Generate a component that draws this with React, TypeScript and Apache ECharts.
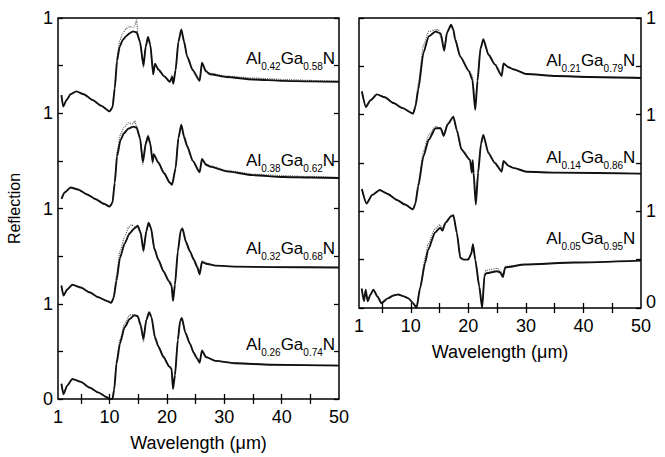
import { useEffect, useRef } from 'react';
import * as echarts from 'echarts';

type P = [number, number];

const FONT = '"Liberation Sans", Arial, Helvetica, sans-serif';

// axis ticks / labels
const xLabelValues = [1, 10, 20, 30, 40, 50];
const xTickValues = [5, 10, 15, 20, 25, 30, 35, 40, 45];

// compositions
const leftAl = ['0.42', '0.38', '0.32', '0.26'];
const leftGa = ['0.58', '0.62', '0.68', '0.74'];
const leftOffsets = [3, 2, 1, 0];
const leftLabelY = [3.57, 2.5, 1.58, 0.57];
const rightAl = ['0.21', '0.14', '0.05'];
const rightGa = ['0.79', '0.86', '0.95'];
const rightOffsets = [2, 1, 0];
const rightLabelY = [2.56, 1.56, 0.72];

// Al0.42Ga0.58N
const al42Fit: P[] = [[1.6,0.19],[1.9,0.07],[2.5,0.14],[3.2,0.20],[4.2,0.23],[5.5,0.20],[7,0.14],[8.5,0.08],[10,0.02],[10.5,0.06],[10.9,0.26],[11.3,0.55],[11.75,0.70],[12.3,0.77],[12.9,0.81],[13.5,0.84],[14.1,0.86],[14.7,0.85],[15.3,0.75],[15.9,0.50],[16.3,0.70],[16.7,0.80],[17.1,0.72],[17.6,0.41],[17.9,0.52],[18.5,0.46],[19.5,0.39],[20.5,0.33],[20.9,0.38],[21.1,0.31],[21.5,0.45],[22,0.75],[22.5,0.88],[23,0.75],[23.5,0.60],[24.5,0.45],[25.7,0.34],[26.1,0.53],[26.8,0.44],[27.5,0.41],[30.4,0.38],[35,0.355],[40.3,0.34],[45,0.335],[50,0.33]];
const al42Exp: P[] = [[1.6,0.19],[1.9,0.08],[2.5,0.14],[3.2,0.20],[4.2,0.23],[5.5,0.20],[7,0.14],[8.5,0.08],[10,0.02],[10.5,0.07],[10.9,0.30],[11.3,0.60],[11.75,0.76],[12.3,0.84],[12.9,0.89],[13.5,0.91],[14.1,0.90],[14.4,0.92],[14.7,0.98],[15.0,0.80],[15.4,0.70],[15.9,0.48],[16.3,0.71],[16.7,0.79],[17.1,0.70],[17.6,0.40],[17.9,0.50],[18.5,0.46],[19.5,0.39],[20.5,0.33],[20.9,0.40],[21.1,0.32],[21.5,0.46],[22,0.76],[22.5,0.87],[23,0.73],[23.5,0.60],[24.5,0.46],[25.7,0.35],[26.1,0.52],[26.8,0.45],[27.5,0.42],[30.4,0.39],[35,0.37],[40.3,0.355],[45,0.345],[50,0.335]];

// Al0.38Ga0.62N
const al38Fit: P[] = [[1.6,0.10],[2.2,0.17],[3.2,0.22],[4.5,0.20],[6,0.15],[7.5,0.10],[9,0.05],[10,0.02],[10.5,0.06],[10.9,0.27],[11.3,0.55],[11.9,0.72],[12.5,0.79],[13.3,0.84],[14.1,0.86],[14.7,0.85],[15.3,0.74],[15.8,0.49],[16.3,0.68],[16.7,0.76],[17.1,0.68],[17.5,0.49],[17.7,0.57],[18.5,0.48],[19.5,0.37],[20.5,0.27],[20.9,0.25],[21.5,0.42],[22,0.74],[22.5,0.88],[23,0.75],[23.5,0.66],[24.5,0.50],[25.7,0.38],[26.1,0.52],[26.8,0.46],[27.5,0.44],[30.4,0.39],[35,0.35],[40.3,0.33],[45,0.325],[50,0.32]];
const al38Exp: P[] = [[1.6,0.11],[2.2,0.17],[3.2,0.22],[4.5,0.20],[6,0.15],[7.5,0.10],[9,0.05],[10,0.02],[10.5,0.07],[10.9,0.30],[11.3,0.60],[11.9,0.78],[12.5,0.85],[13.3,0.90],[14.1,0.89],[14.4,0.92],[14.7,0.86],[15.3,0.72],[15.8,0.46],[16.3,0.69],[16.7,0.77],[17.1,0.67],[17.5,0.47],[17.7,0.56],[18.5,0.49],[19.5,0.38],[20.5,0.28],[20.9,0.26],[21.5,0.43],[22,0.75],[22.5,0.87],[23,0.73],[23.5,0.64],[24.5,0.50],[25.7,0.39],[26.1,0.51],[26.8,0.47],[27.5,0.45],[30.4,0.40],[35,0.36],[40.3,0.345],[45,0.335],[50,0.325]];

// Al0.32Ga0.68N
const al32Fit: P[] = [[1.6,0.19],[1.95,0.085],[2.6,0.15],[3.5,0.20],[5,0.17],[6.5,0.12],[8,0.07],[9.5,0.03],[10.3,0.01],[10.7,0.06],[11.2,0.24],[11.8,0.48],[12.6,0.63],[13.5,0.74],[14.3,0.79],[14.9,0.82],[15.4,0.75],[15.9,0.56],[16.4,0.76],[16.8,0.85],[17.2,0.80],[17.8,0.58],[18.5,0.46],[19.4,0.34],[20.3,0.24],[20.8,0.19],[21.05,0.03],[21.4,0.20],[21.9,0.55],[22.4,0.77],[22.7,0.79],[23.3,0.65],[24,0.55],[24.7,0.46],[25.3,0.38],[25.7,0.31],[26.1,0.44],[26.8,0.42],[28.5,0.40],[32,0.39],[38,0.385],[50,0.38]];
const al32Exp: P[] = [[1.6,0.19],[1.95,0.09],[2.6,0.15],[3.5,0.20],[5,0.17],[6.5,0.12],[8,0.07],[9.5,0.03],[10.3,0.01],[10.7,0.08],[11.2,0.30],[11.8,0.55],[12.6,0.70],[13.3,0.80],[13.8,0.83],[14.3,0.81],[14.9,0.80],[15.4,0.73],[15.9,0.54],[16.4,0.77],[16.8,0.84],[17.2,0.78],[17.8,0.57],[18.5,0.47],[19.4,0.35],[20.3,0.25],[20.8,0.21],[21.05,0.05],[21.4,0.22],[21.9,0.56],[22.4,0.76],[22.7,0.78],[23.3,0.66],[24,0.56],[24.7,0.47],[25.3,0.40],[25.7,0.33],[26.1,0.45],[26.8,0.43],[28.5,0.40],[32,0.39],[38,0.385],[50,0.38]];

// Al0.26Ga0.74N
const al26Fit: P[] = [[1.6,0.16],[1.95,0.05],[2.6,0.14],[3.5,0.21],[5,0.18],[6.5,0.12],[8,0.07],[9.5,0.02],[10,0.0],[10.5,0.0],[10.8,0.10],[11.2,0.37],[11.8,0.58],[12.6,0.75],[13.5,0.84],[14.3,0.88],[14.9,0.87],[15.4,0.78],[15.9,0.63],[16.4,0.83],[16.9,0.91],[17.3,0.86],[17.9,0.65],[18.5,0.55],[19.4,0.44],[20.4,0.34],[20.8,0.32],[21.05,0.105],[21.4,0.25],[21.9,0.62],[22.3,0.82],[22.6,0.85],[23.2,0.70],[24,0.58],[24.7,0.48],[25.3,0.42],[25.7,0.38],[26.1,0.51],[26.8,0.44],[28.5,0.40],[32,0.375],[38,0.36],[50,0.35]];
const al26Exp: P[] = [[1.6,0.16],[1.95,0.06],[2.6,0.14],[3.5,0.21],[5,0.18],[6.5,0.12],[8,0.07],[9.5,0.02],[10,0.0],[10.5,0.01],[10.8,0.12],[11.2,0.40],[11.8,0.62],[12.6,0.79],[13.5,0.88],[13.9,0.89],[14.3,0.88],[14.9,0.86],[15.4,0.76],[15.9,0.60],[16.4,0.84],[16.9,0.90],[17.3,0.85],[17.9,0.64],[18.5,0.56],[19.4,0.45],[20.4,0.35],[20.8,0.30],[21.05,0.12],[21.4,0.27],[21.9,0.63],[22.3,0.81],[22.6,0.84],[23.2,0.69],[24,0.58],[24.7,0.49],[25.3,0.43],[25.7,0.39],[26.1,0.50],[26.8,0.45],[28.5,0.40],[32,0.38],[38,0.36],[50,0.355]];

// Al0.21Ga0.79N
const al21Fit: P[] = [[1.5,0.24],[2.2,0.08],[3,0.15],[4.1,0.21],[5.5,0.18],[7,0.12],[8.5,0.07],[10.4,0.01],[10.8,0.08],[11.3,0.26],[12.2,0.64],[13.1,0.81],[14.3,0.86],[15.2,0.84],[15.8,0.66],[16.3,0.85],[17.0,0.93],[17.4,0.88],[17.7,0.78],[18.6,0.60],[20.1,0.45],[20.7,0.36],[21.2,0.05],[21.6,0.35],[22.1,0.68],[22.6,0.78],[23.5,0.62],[24.6,0.52],[25.8,0.40],[26.1,0.53],[27.0,0.49],[27.8,0.47],[30.1,0.42],[35.3,0.40],[41.1,0.39],[50,0.38]];
const al21Exp: P[] = [[1.5,0.24],[2.2,0.09],[3,0.15],[4.1,0.21],[5.5,0.18],[7,0.12],[8.5,0.07],[10.4,0.01],[10.8,0.10],[11.3,0.32],[12.2,0.72],[13.1,0.86],[14.3,0.88],[14.8,0.88],[15.2,0.80],[15.8,0.68],[16.3,0.86],[17.0,0.92],[17.4,0.87],[17.7,0.77],[18.6,0.60],[20.1,0.46],[20.7,0.40],[21.2,0.10],[21.6,0.38],[22.1,0.69],[22.6,0.77],[23.5,0.63],[24.6,0.53],[25.8,0.41],[26.1,0.52],[27.0,0.49],[27.8,0.47],[30.1,0.42],[35.3,0.40],[41.1,0.39],[50,0.385]];

// Al0.14Ga0.86N
const al14Fit: P[] = [[1.5,0.23],[2.3,0.08],[3.3,0.17],[4.6,0.22],[6,0.18],[7.5,0.12],[9,0.07],[10.4,0.02],[10.8,0.08],[11.3,0.26],[12.2,0.57],[13.1,0.74],[14.3,0.86],[15.2,0.86],[15.7,0.78],[16.4,0.90],[17.4,0.98],[18,0.84],[18.8,0.64],[20.3,0.53],[20.6,0.40],[20.75,0.53],[20.9,0.40],[21.3,0.07],[21.7,0.40],[22.2,0.70],[22.6,0.79],[23.5,0.60],[24.6,0.50],[25.8,0.41],[26.1,0.52],[27.0,0.47],[27.8,0.45],[30.1,0.41],[35.3,0.40],[50,0.39]];
const al14Exp: P[] = [[1.5,0.23],[2.3,0.09],[3.3,0.17],[4.6,0.22],[6,0.18],[7.5,0.12],[9,0.07],[10.4,0.02],[10.8,0.10],[11.3,0.30],[12.2,0.62],[13.1,0.79],[14.3,0.88],[15.2,0.86],[15.7,0.80],[16.4,0.91],[17.4,0.97],[18,0.83],[18.8,0.64],[20.3,0.54],[20.6,0.44],[20.9,0.42],[21.3,0.12],[21.7,0.42],[22.2,0.70],[22.6,0.78],[23.5,0.61],[24.6,0.51],[25.8,0.42],[26.1,0.51],[27.0,0.47],[27.8,0.45],[30.1,0.41],[35.3,0.40],[50,0.39]];

// Al0.05Ga0.95N
const al05Fit: P[] = [[1.47,0.20],[1.87,0.07],[2.16,0.19],[2.5,0.07],[3.0,0.14],[3.5,0.19],[4.2,0.12],[4.9,0.05],[6,0.10],[7,0.13],[7.8,0.14],[8.8,0.12],[9.6,0.10],[10.4,0.05],[11.0,0.0],[11.6,0.20],[12.5,0.47],[13.0,0.60],[14.2,0.78],[15.1,0.83],[15.5,0.80],[16.0,0.88],[17.0,0.95],[17.4,0.96],[18.0,0.78],[18.6,0.52],[19.2,0.50],[20.0,0.50],[20.5,0.56],[20.8,0.66],[21.2,0.50],[21.9,0.22],[22.4,0.0],[22.8,0.33],[23.1,0.36],[25.0,0.38],[25.5,0.37],[26.0,0.32],[26.4,0.42],[29.8,0.45],[38.5,0.47],[50,0.49]];
const al05Exp: P[] = [[1.47,0.20],[1.87,0.07],[2.16,0.19],[2.5,0.07],[3.0,0.14],[3.5,0.19],[4.2,0.12],[4.9,0.05],[6,0.10],[7,0.13],[7.8,0.14],[8.8,0.12],[9.6,0.10],[10.4,0.05],[11.0,0.01],[11.6,0.22],[12.5,0.52],[13.0,0.66],[14.2,0.82],[15.1,0.86],[15.5,0.82],[16.0,0.87],[17.0,0.94],[17.4,0.95],[18.0,0.77],[18.6,0.52],[19.2,0.50],[20.0,0.51],[20.5,0.57],[20.8,0.65],[21.2,0.51],[21.9,0.24],[22.4,0.02],[22.8,0.36],[23.1,0.39],[25.0,0.41],[25.5,0.39],[26.0,0.35],[26.4,0.43],[29.8,0.45],[38.5,0.47],[50,0.49]];

const leftFits = [al42Fit, al38Fit, al32Fit, al26Fit];
const leftExps = [al42Exp, al38Exp, al32Exp, al26Exp];
const rightFits = [al21Fit, al14Fit, al05Fit];
const rightExps = [al21Exp, al14Exp, al05Exp];

const shift = (d: P[], off: number) => d.map(([x, r]) => [x, r + off]);
const yLabelLeft = (v: number) => (Math.abs(v) < 1e-9 ? '0' : Math.abs(v - Math.round(v)) < 1e-6 ? '1' : '');
const yLabelRight = (v: number) => (Math.abs(v) < 1e-9 ? '{z|0}' : Math.abs(v - Math.round(v)) < 1e-6 ? '1' : '');
const yLabelRich = { z: { fontSize: 18, fontFamily: FONT, color: '#000', padding: [0, 0, 12, 0] } };

const richStyle = {
  n: { fontSize: 17, fontFamily: FONT, color: '#000' },
  s: { fontSize: 10, fontFamily: FONT, color: '#000', padding: [16, 0, 0, 0] },
};

function buildSeries(fits: P[][], exps: P[][], offs: number[], al: string[], ga: string[], labelY: number[], xi: number, yi: number, labelX: number) {
  const out: any[] = [];
  fits.forEach((fit, i) => {
    out.push({
      type: 'line', xAxisIndex: xi, yAxisIndex: yi, data: shift(exps[i], offs[i]), showSymbol: false, symbol: 'none',
      smooth: 0.2, smoothMonotone: 'x',
      lineStyle: { color: '#555', width: 1.1, type: 'dotted' }, z: 2,
    });
    out.push({
      type: 'line', xAxisIndex: xi, yAxisIndex: yi, data: shift(fit, offs[i]), showSymbol: false, symbol: 'none',
      smooth: 0.2, smoothMonotone: 'x',
      lineStyle: { color: '#111', width: 1.9 }, z: 3,
      markPoint: {
        symbol: 'circle', symbolSize: 1, itemStyle: { color: 'rgba(0,0,0,0)' }, silent: true,
        label: {
          show: true, position: 'left', distance: 0,
          formatter: `{n|Al}{s|${al[i]}}{n|Ga}{s|${ga[i]}}{n|N}`,
          rich: richStyle,
        },
        data: [{ coord: [labelX, labelY[i]] }],
      },
    });
  });
  return out;
}

const xAxisBase = (grid: number, pos: 'bottom' | 'top', labels: boolean, name?: string) => ({
  type: 'value', gridIndex: grid, position: pos, min: 1, max: 50,
  axisLine: { show: false }, splitLine: { show: false },
  axisTick: { show: true, inside: true, length: 5, customValues: xTickValues, lineStyle: { color: '#000', width: 1.3 } },
  axisLabel: labels
    ? { show: true, customValues: xLabelValues, fontSize: 18, fontFamily: FONT, color: '#000', margin: 9 }
    : { show: false },
  name: name || '', nameLocation: 'middle', nameGap: 35,
  nameTextStyle: { fontSize: 18, fontFamily: FONT, color: '#000' },
});

const yAxisBase = (grid: number, pos: 'left' | 'right', max: number, labels: boolean, name?: string) => ({
  type: 'value', gridIndex: grid, position: pos, min: 0, max, interval: 0.5,
  axisLine: { show: false }, splitLine: { show: false },
  axisTick: { show: true, inside: true, length: 5, lineStyle: { color: '#000', width: 1.3 } },
  axisLabel: labels
    ? {
        show: true, formatter: pos === 'right' ? yLabelRight : yLabelLeft, rich: yLabelRich,
        fontSize: 18, fontFamily: FONT, color: '#000', margin: 5, showMaxLabel: true, showMinLabel: true,
      }
    : { show: false },
  name: name || '', nameLocation: 'middle', nameGap: 36, nameRotate: 90,
  nameTextStyle: { fontSize: 16, fontFamily: FONT, color: '#000' },
});

export default function App() {
  const ref = useRef<HTMLDivElement>(null);
  useEffect(() => {
    if (!ref.current) return;
    const chart = echarts.init(ref.current, undefined, { renderer: 'svg' });
    chart.setOption({
      animation: false,
      backgroundColor: '#fff',
      grid: [
        { left: 58, top: 18, width: 281, height: 387, show: true, borderColor: '#000', borderWidth: 1.5, backgroundColor: 'transparent' },
        { left: 359, top: 18, width: 282, height: 290, show: true, borderColor: '#000', borderWidth: 1.5, backgroundColor: 'transparent' },
      ],
      xAxis: [
        xAxisBase(0, 'bottom', true, 'Wavelength (\u03bcm)'),
        xAxisBase(0, 'top', false),
        xAxisBase(1, 'bottom', true, 'Wavelength (\u03bcm)'),
        xAxisBase(1, 'top', false),
      ],
      yAxis: [
        yAxisBase(0, 'left', 4, true, 'Reflection'),
        yAxisBase(0, 'right', 4, false),
        yAxisBase(1, 'left', 3, false),
        yAxisBase(1, 'right', 3, true),
      ],
      series: [
        ...buildSeries(leftFits, leftExps, leftOffsets, leftAl, leftGa, leftLabelY, 0, 0, 49.4),
        ...buildSeries(rightFits, rightExps, rightOffsets, rightAl, rightGa, rightLabelY, 2, 3, 49.1),
      ],
    });
    return () => chart.dispose();
  }, []);
  return <div ref={ref} style={{ position: 'fixed', left: 0, top: 0, width: 665, height: 457 }} />;
}
